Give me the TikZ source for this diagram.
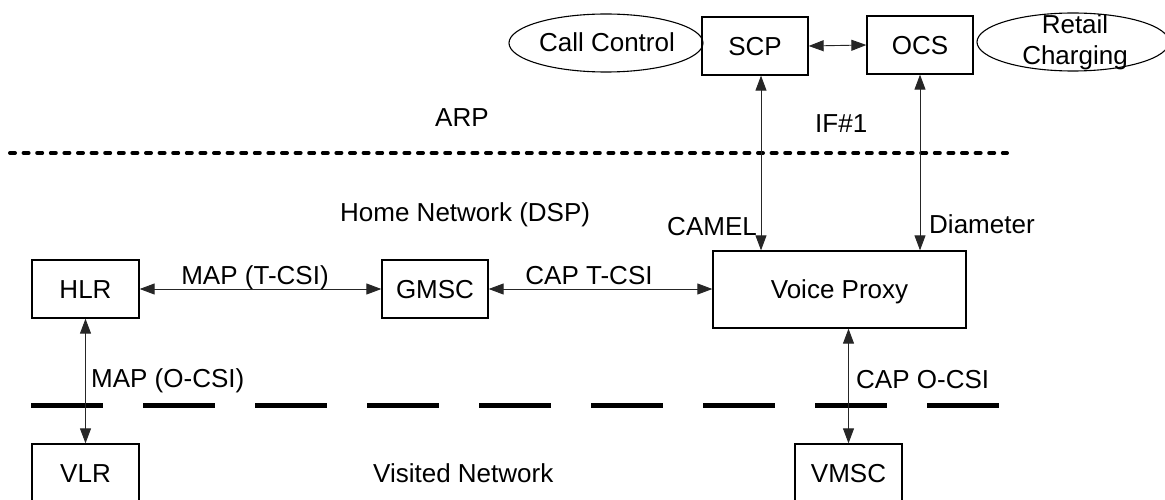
\documentclass[tikz,border=0pt]{standalone}
\usepackage{fontspec}
\setmainfont{Liberation Sans}
\usetikzlibrary{arrows.meta,shapes.geometric}
\begin{document}
\begin{tikzpicture}[x=1pt,y=-1pt,
  every node/.style={font=\fontsize{26}{31}\selectfont},
  box/.style={draw,line width=1.3pt,rectangle,inner sep=0pt,text height=18.6pt,text depth=0pt},
  oval/.style={draw,line width=1.1pt,ellipse,inner sep=0pt},
  lbl/.style={inner sep=0pt},
  link/.style={line width=0.9pt,black!85,{Triangle[length=15pt,width=11pt]}-{Triangle[length=15pt,width=11pt]}},
  dotline/.style={line width=4pt,line cap=round,dash pattern=on 5pt off 8.6pt},
  dashline/.style={line width=5pt,dash pattern=on 72pt off 40pt}]
\useasboundingbox (0,0) rectangle (1165,500);
% top nodes
\node[oval,minimum width=194pt,minimum height=58pt] (cc) at (606,43) {};
\node[lbl,anchor=base] (cctext) at (607,52) {Call Control};
\node[box,minimum width=106pt,minimum height=58pt] (scp) at (755,46) {SCP};
\node[box,minimum width=106pt,minimum height=58pt] (ocs) at (920,45) {OCS};
\node[oval,minimum width=192pt,minimum height=58pt] (rc) at (1073,42) {};
\node[lbl,anchor=base] (rc1) at (1075,34) {Retail};
\node[lbl,anchor=base] (rc2) at (1075,65) {Charging};
% labels
\node[lbl,anchor=base west] (arp) at (435,127) {ARP};
\node[lbl,anchor=base west] (if1) at (815,133) {IF\#1};
\node[lbl,anchor=base west] (home) at (340,222) {Home Network (DSP)};
\node[lbl,anchor=base east] (camel) at (757,235) {CAMEL};
\node[lbl,anchor=base west] (diam) at (929,233) {Diameter};
% middle nodes
\node[box,minimum width=107pt,minimum height=58pt] (hlr) at (85.5,289) {HLR};
\node[box,minimum width=106pt,minimum height=58pt] (gmsc) at (435,289) {GMSC};
\node[box,minimum width=253pt,minimum height=77pt] (vp) at (839.5,289.5) {Voice Proxy};
\node[lbl,anchor=base] (maptcsi) at (255,284) {MAP (T-CSI)};
\node[lbl,anchor=base] (captcsi) at (589,284) {CAP T-CSI};
\node[lbl,anchor=base west] (mapocsi) at (91,387) {MAP (O-CSI)};
\node[lbl,anchor=base west] (capocsi) at (856,388) {CAP O-CSI};
% bottom nodes
\node[box,minimum width=107pt,minimum height=58pt] (vlr) at (85.5,473) {VLR};
\node[box,minimum width=107pt,minimum height=58pt] (vmsc) at (848.5,473) {VMSC};
\node[lbl,anchor=base west] (visited) at (373,482) {Visited Network};
% boundary lines
\coordinate (d1) at (10,153);
\coordinate (d2) at (1007,153);
\draw[dotline] (d1) -- (d2);
\coordinate (e1) at (31,405);
\coordinate (e2) at (999,405);
\draw[dashline] (e1) -- (e2);
% connectors
\draw[link] (scp.east) -- (ocs.west);
\draw[link] ([xshift=6pt]scp.south) -- ([xshift=6pt]scp.south |- vp.north);
\draw[link] (ocs.south) -- (ocs.south |- vp.north);
\draw[link] (hlr.east) -- (gmsc.west);
\draw[link] (gmsc.east) -- (gmsc.east -| vp.west);
\draw[link] (hlr.south) -- (vlr.north);
\draw[link] (vmsc.north |- vp.south) -- (vmsc.north);
\end{tikzpicture}
\end{document}
